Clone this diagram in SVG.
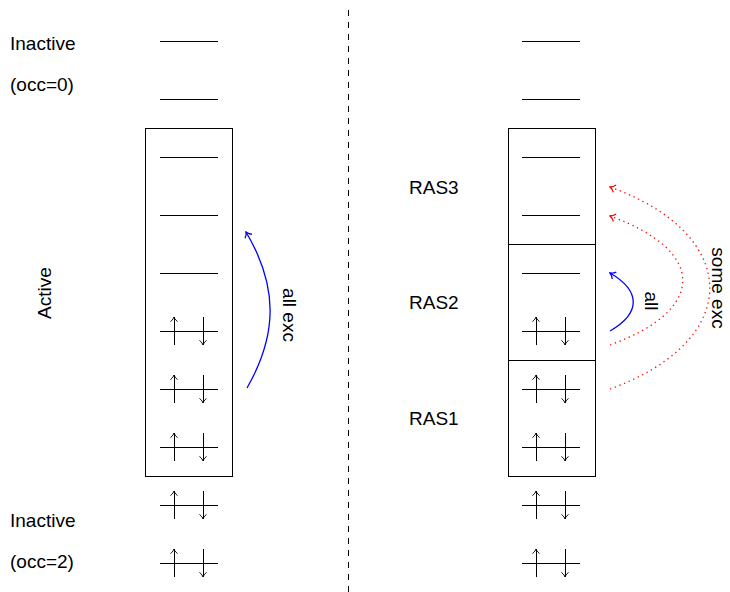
<svg xmlns="http://www.w3.org/2000/svg" xmlns:xlink="http://www.w3.org/1999/xlink" width="730" height="592" viewBox="0 0 730 592">
<style>
  text { font-family: "Liberation Sans", Arial, sans-serif; font-size: 19px; fill: #000; }
  .lvl { stroke: #000; stroke-width: 1; fill: none; shape-rendering: crispEdges; }
  .box { stroke: #000; stroke-width: 1; fill: none; shape-rendering: crispEdges; }
  .spin { stroke: #000; stroke-width: 1; fill: none; shape-rendering: crispEdges; }
  .blue { stroke: #0000ff; stroke-width: 1.3; fill: none; }
  .red { stroke: #ff0000; stroke-width: 1.3; fill: none; stroke-dasharray: 1.3 3.7; }
</style>
<defs>
  <marker id="ahK" viewBox="-6 -5 7 10" refX="0" refY="0" markerWidth="7" markerHeight="10" orient="auto" markerUnits="userSpaceOnUse">
    <path d="M-4.5,-3.5 C-3,-1.4 -1.2,-0.4 0,0 C-1.2,0.4 -3,1.4 -4.5,3.5" fill="none" stroke="#000" stroke-width="1"/>
  </marker>
  <marker id="ahB" viewBox="-7 -5 8 10" refX="0" refY="0" markerWidth="8" markerHeight="10" orient="auto" markerUnits="userSpaceOnUse">
    <path d="M-5,-4 C-3.4,-1.6 -1.3,-0.5 0,0 C-1.3,0.5 -3.4,1.6 -5,4" fill="none" stroke="#0000ff" stroke-width="1.3"/>
  </marker>
  <marker id="ahR" viewBox="-7 -5 8 10" refX="0" refY="0" markerWidth="8" markerHeight="10" orient="auto" markerUnits="userSpaceOnUse">
    <path d="M-5,-4 C-3.4,-1.6 -1.3,-0.5 0,0 C-1.3,0.5 -3.4,1.6 -5,4" fill="none" stroke="#ff0000" stroke-width="1.3"/>
  </marker>
  <g id="pair">
    <line x1="0" y1="0" x2="58" y2="0" class="lvl"/>
    <line x1="14" y1="14" x2="14" y2="-14" class="spin" marker-end="url(#ahK)"/>
    <line x1="43" y1="-14" x2="43" y2="14" class="spin" marker-end="url(#ahK)"/>
  </g>
  <line id="empty" x1="0" y1="0" x2="58" y2="0" class="lvl"/>
</defs>

<g id="divider">
  <line x1="348" y1="10" x2="348" y2="592" stroke="#000" stroke-width="1" stroke-dasharray="6 6" shape-rendering="crispEdges"/>
</g>

<g id="left-labels">
  <text x="10" y="50">Inactive</text>
  <text x="10" y="91">(occ=0)</text>
  <text x="10" y="527">Inactive</text>
  <text x="10" y="568">(occ=2)</text>
  <text transform="translate(51,293) rotate(-90)" text-anchor="middle">Active</text>
</g>

<g id="left-column">
  <rect x="145" y="128" width="87" height="348" class="box"/>
  <use xlink:href="#empty" x="160" y="41"/>
  <use xlink:href="#empty" x="160" y="99"/>
  <use xlink:href="#empty" x="160" y="157"/>
  <use xlink:href="#empty" x="160" y="215"/>
  <use xlink:href="#empty" x="160" y="273"/>
  <use xlink:href="#pair" x="160" y="331"/>
  <use xlink:href="#pair" x="160" y="389"/>
  <use xlink:href="#pair" x="160" y="447"/>
  <use xlink:href="#pair" x="160" y="505"/>
  <use xlink:href="#pair" x="160" y="563"/>
</g>

<g id="right-column">
  <rect x="508" y="128" width="87" height="348" class="box"/>
  <line x1="508" y1="244" x2="595" y2="244" class="box"/>
  <line x1="508" y1="360" x2="595" y2="360" class="box"/>
  <use xlink:href="#empty" x="522" y="41"/>
  <use xlink:href="#empty" x="522" y="99"/>
  <use xlink:href="#empty" x="522" y="157"/>
  <use xlink:href="#empty" x="522" y="215"/>
  <use xlink:href="#empty" x="522" y="273"/>
  <use xlink:href="#pair" x="522" y="331"/>
  <use xlink:href="#pair" x="522" y="389"/>
  <use xlink:href="#pair" x="522" y="447"/>
  <use xlink:href="#pair" x="522" y="505"/>
  <use xlink:href="#pair" x="522" y="563"/>
</g>

<g id="ras-labels">
  <text x="409" y="194">RAS3</text>
  <text x="409" y="309">RAS2</text>
  <text x="409" y="425">RAS1</text>
</g>

<g id="connectors">
  <path d="M247,388 C278,334 278,286 246,232" class="blue" marker-end="url(#ahB)"/>
  <path d="M610,331 C641,313 641,291 610,273" class="blue" marker-end="url(#ahB)"/>
  <path d="M610,345 C707,310 707,251 610,216" class="red" marker-end="url(#ahR)"/>
  <path d="M610,389 C743,341 743,235 610,187" class="red" marker-end="url(#ahR)"/>
  <text transform="translate(283,315) rotate(90)" text-anchor="middle">all exc</text>
  <text transform="translate(645,301) rotate(90)" text-anchor="middle">all</text>
  <text transform="translate(712,288) rotate(90)" text-anchor="middle">some exc</text>
</g>
</svg>
